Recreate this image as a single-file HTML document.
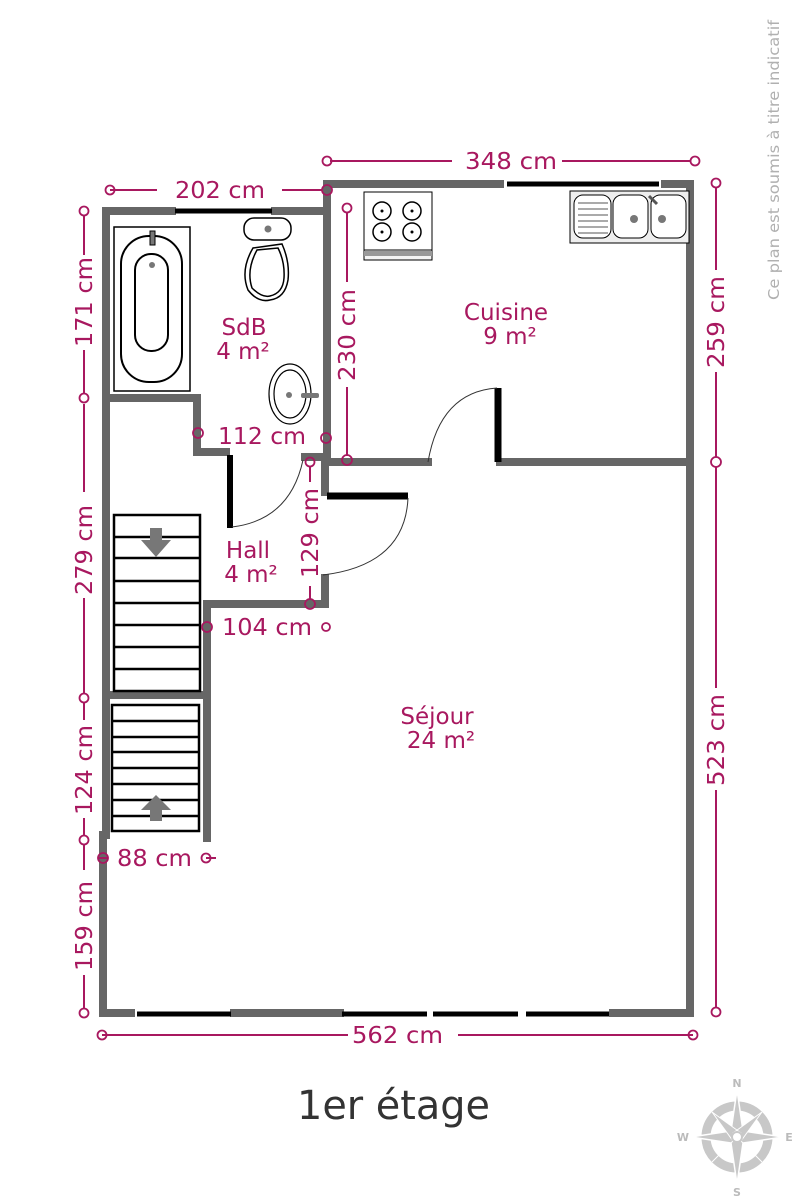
<!DOCTYPE html>
<html><head><meta charset="utf-8"><style>
html,body{margin:0;padding:0;background:#fff;}
svg{display:block;}
.d{fill:#a8185f;font-family:"DejaVu Sans","Liberation Sans",sans-serif;font-size:23px;}
</style></head><body>
<svg width="799" height="1200" viewBox="0 0 799 1200" xmlns="http://www.w3.org/2000/svg">
<g fill="#fff">
<g stroke="#666" stroke-width="8" fill="none" stroke-linecap="square">
<path d="M106 211 L106 835"/>
<path d="M103 835 L103 1013 L131 1013"/>
<path d="M106 211 L172 211"/>
<path d="M275 211 L327 211 L327 184 L500 184"/>
<path d="M665 184 L690 184 L690 1013 L613 1013"/>
<path d="M234 1013 L340 1013"/>
<path d="M327 184 L327 462 L428 462"/>
<path d="M500 462 L690 462"/>
<path d="M106 398 L197 398 L197 452 L226 452"/>
<path d="M305 457 L325 457"/>
<path d="M325 462 L325 492"/>
<path d="M325 578 L325 604 L207 604 L207 694"/>
<path d="M106 695 L207 695"/>
<path d="M207 700 L207 838"/>
</g>
<g stroke="#000" stroke-width="6" fill="none">
<line x1="175" y1="211" x2="272" y2="211" stroke-width="5"/>
<line x1="507" y1="184" x2="659" y2="184" stroke-width="5"/>
<line x1="137" y1="1014" x2="231" y2="1014" stroke-width="5"/>
<line x1="342" y1="1014" x2="427" y2="1014" stroke-width="5"/>
<line x1="433" y1="1014" x2="518" y2="1014" stroke-width="5"/>
<line x1="526" y1="1014" x2="609" y2="1014" stroke-width="5"/>
<line x1="230" y1="455" x2="230" y2="528"/>
<line x1="498" y1="388" x2="498" y2="462" stroke-width="7"/>
<line x1="327" y1="496" x2="408" y2="496" stroke-width="7"/>
</g>
<g stroke="#333" stroke-width="1" fill="none">
<path d="M232 527 Q290 520 303 460"/>
<path d="M408 498 Q405 565 323 575"/>
<path d="M497 388 Q440 392 428 462"/>
</g>
<g stroke="#000" stroke-width="2.5" fill="none">
<rect x="114" y="515" width="86" height="176"/>
<path d="M114 537H200M114 558H200M114 581H200M114 603H200M114 625H200M114 647H200M114 669H200"/>
<rect x="112" y="705" width="87" height="126"/>
<path d="M112 721H199M112 737H199M112 752H199M112 768H199M112 784H199M112 800H199M112 816H199"/>
</g>
<path d="M150 528h12v12h9l-15 17l-15-17h9z" fill="#777"/>
<path d="M150 821h12v-11h9l-15-15l-15 15h9z" fill="#777"/>
<g stroke="#000" fill="none">
<rect x="114" y="227" width="76" height="164" stroke-width="1.5"/>
<rect x="121" y="236" width="61" height="146" rx="28" stroke-width="2"/>
<rect x="135" y="254" width="33" height="97" rx="16" stroke-width="2"/>
</g>
<rect x="150" y="231" width="5" height="14" fill="#777" stroke="#000"/>
<circle cx="152" cy="265" r="3" fill="#777"/>
<g stroke="#000" fill="#fff" stroke-width="1.5">
<path d="M253 248 Q240 270 248 290 Q258 303 270 300 Q285 298 288 280 Q290 262 282 244 Z"/>
<path d="M257 250 Q246 270 252 288 Q262 298 270 296 Q283 293 284 278 Q285 262 278 248Z"/>
<rect x="244" y="218" width="47" height="22" rx="10"/>
</g>
<circle cx="268" cy="229" r="3.5" fill="#777"/>
<g stroke="#000" fill="none" stroke-width="1.2">
<ellipse cx="290" cy="394" rx="21" ry="30"/>
<ellipse cx="290" cy="394" rx="16" ry="24"/>
</g>
<circle cx="289" cy="395" r="3" fill="#777"/>
<rect x="301" y="393" width="18" height="5" rx="2" fill="#777"/>
<g stroke="#000" fill="#fff">
<rect x="364" y="192" width="68" height="68" stroke-width="1" fill="#f4f4f4"/>
<rect x="364" y="192" width="68" height="58" stroke-width="1" fill="#fff"/>
<circle cx="382" cy="211" r="9" stroke-width="1.5"/><circle cx="412" cy="211" r="9" stroke-width="1.5"/>
<circle cx="382" cy="232" r="9" stroke-width="1.5"/><circle cx="412" cy="232" r="9" stroke-width="1.5"/>
</g>
<g fill="#000"><circle cx="382" cy="211" r="1.5"/><circle cx="412" cy="211" r="1.5"/><circle cx="382" cy="232" r="1.5"/><circle cx="412" cy="232" r="1.5"/></g>
<rect x="364" y="251" width="68" height="5" fill="#999"/>
<g stroke="#000" fill="#fff" stroke-width="1">
<rect x="570" y="191" width="119" height="52" fill="#eee"/>
<rect x="574" y="195" width="37" height="43" rx="9"/>
<rect x="613" y="195" width="35" height="43" rx="9"/>
<rect x="651" y="195" width="35" height="43" rx="9"/>
<path d="M578 203H608M578 209H608M578 215H608M578 221H608M578 227H608M578 233H608" stroke="#555"/>
</g>
<circle cx="634" cy="219" r="4" fill="#777"/><circle cx="662" cy="219" r="4" fill="#777"/>
<line x1="649" y1="196" x2="657" y2="204" stroke="#555" stroke-width="3"/>
</g>
<g stroke="#a8185f" stroke-width="2" fill="none">
<path d="M110 190H157M282 190H322"/>
<path d="M330 161H452M562 161H690"/>
<path d="M84 215V255M84 350V394M84 404V492M84 598V693M84 703V720M84 818V835M84 845V870M84 975V1008"/>
<path d="M716 187V270M716 372V457M716 467V688M716 790V1008"/>
<path d="M347 212V282M347 387V456"/>
<path d="M310 466V482M310 586V600"/>
<path d="M98 858H108M206 858H216"/>
<path d="M102 1035H348M458 1035H693"/>
<g stroke-width="1.8">
<circle cx="110" cy="190" r="4.5"/><circle cx="327" cy="190" r="5"/>
<circle cx="327" cy="161" r="4.5"/><circle cx="695" cy="161" r="4.5"/>
<circle cx="84" cy="211" r="4.5"/><circle cx="84" cy="398" r="4.5"/><circle cx="84" cy="698" r="4.5"/><circle cx="84" cy="840" r="4.5"/><circle cx="84" cy="1013" r="4.5"/>
<circle cx="716" cy="183" r="4.5"/><circle cx="716" cy="462" r="5"/><circle cx="716" cy="1012" r="4.5"/>
<circle cx="347" cy="208" r="4.5"/><circle cx="347" cy="460" r="5"/>
<circle cx="198" cy="433" r="5"/><circle cx="326" cy="438" r="5"/>
<circle cx="310" cy="462" r="4.5"/><circle cx="310" cy="604" r="5"/>
<circle cx="207" cy="627" r="5"/><circle cx="326" cy="627" r="4"/>
<circle cx="103" cy="858" r="5"/><circle cx="206" cy="858" r="4.5"/>
<circle cx="102" cy="1035" r="4.5"/><circle cx="693" cy="1035" r="4.5"/>
</g>
</g>
<g class="d">
<text x="175" y="198" textLength="90" lengthAdjust="spacingAndGlyphs">202 cm</text>
<text x="465" y="169" textLength="92" lengthAdjust="spacingAndGlyphs">348 cm</text>
<text x="218" y="444" textLength="88" lengthAdjust="spacingAndGlyphs">112 cm</text>
<text x="222" y="635" textLength="90" lengthAdjust="spacingAndGlyphs">104 cm</text>
<text x="117" y="866" textLength="75" lengthAdjust="spacingAndGlyphs">88 cm</text>
<text x="352" y="1043" textLength="91" lengthAdjust="spacingAndGlyphs">562 cm</text>
<text transform="translate(92 347) rotate(-90)" textLength="90" lengthAdjust="spacingAndGlyphs">171 cm</text>
<text transform="translate(92 595) rotate(-90)" textLength="90" lengthAdjust="spacingAndGlyphs">279 cm</text>
<text transform="translate(92 815) rotate(-90)" textLength="90" lengthAdjust="spacingAndGlyphs">124 cm</text>
<text transform="translate(92 971) rotate(-90)" textLength="90" lengthAdjust="spacingAndGlyphs">159 cm</text>
<text transform="translate(355 381) rotate(-90)" textLength="92" lengthAdjust="spacingAndGlyphs">230 cm</text>
<text transform="translate(318 578) rotate(-90)" textLength="90" lengthAdjust="spacingAndGlyphs">129 cm</text>
<text transform="translate(724 368) rotate(-90)" textLength="92" lengthAdjust="spacingAndGlyphs">259 cm</text>
<text transform="translate(724 786) rotate(-90)" textLength="92" lengthAdjust="spacingAndGlyphs">523 cm</text>
<text x="244" y="335" text-anchor="middle">SdB</text>
<text x="243" y="359" text-anchor="middle">4 m²</text>
<text x="506" y="320" text-anchor="middle">Cuisine</text>
<text x="510" y="344" text-anchor="middle">9 m²</text>
<text x="248" y="558" text-anchor="middle">Hall</text>
<text x="251" y="582" text-anchor="middle">4 m²</text>
<text x="437" y="724" text-anchor="middle">Séjour</text>
<text x="441" y="748" text-anchor="middle">24 m²</text>
</g>
<text x="297" y="1119" textLength="193" lengthAdjust="spacingAndGlyphs" font-family="DejaVu Sans, Liberation Sans, sans-serif" font-size="40" fill="#333">1er étage</text>
<text transform="translate(779 300) rotate(-90)" textLength="280" lengthAdjust="spacingAndGlyphs" font-family="DejaVu Sans, Liberation Sans, sans-serif" font-size="15" fill="#b0b0b0">Ce plan est soumis à titre indicatif</text>
<g fill="#c8c8c8">
<circle cx="737" cy="1137" r="31" fill="none" stroke="#c8c8c8" stroke-width="9"/>
<path d="M737 1090 L743 1131 L783 1137 L743 1143 L737 1184 L731 1143 L691 1137 L731 1131 Z" stroke="#fff" stroke-width="1.5"/>
<path d="M762 1112 L741 1141 L733 1133 Z M712 1112 L741 1133 L733 1141 Z M762 1162 L733 1133 L741 1141 Z M712 1162 L733 1141 L741 1133 Z" stroke="#fff" stroke-width="1"/>
<circle cx="737" cy="1137" r="5" fill="#fff" stroke="#c8c8c8" stroke-width="2"/>
</g>
<g font-family="DejaVu Sans, Liberation Sans, sans-serif" font-size="11" fill="#bbb" text-anchor="middle" font-weight="bold">
<text x="737" y="1087">N</text><text x="737" y="1196">S</text><text x="683" y="1141">W</text><text x="789" y="1141">E</text>
</g>
</svg>
</body></html>
